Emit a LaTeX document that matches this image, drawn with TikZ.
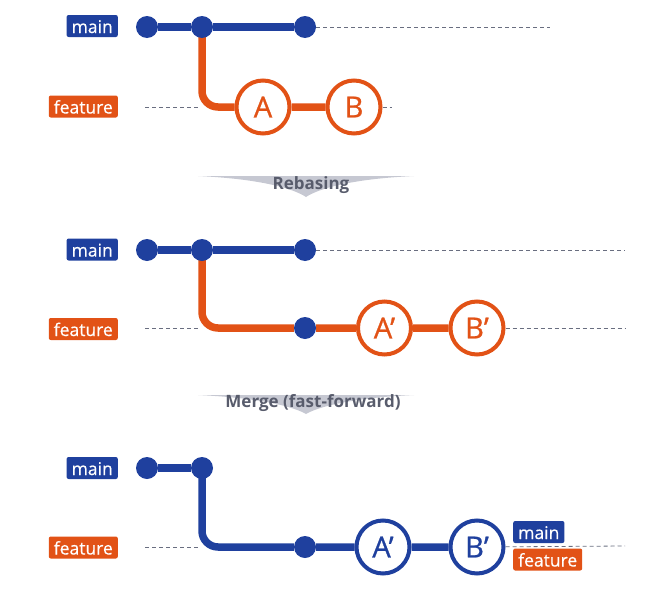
\documentclass[tikz,border=0pt]{standalone}
\usepackage{fontspec}
\setmainfont{Open Sans}
\newfontfamily\commitfont{Open Sans}[FakeBold=0.9]
\newfontfamily\tagfont{Open Sans}[FakeBold=0.4]
\usetikzlibrary{backgrounds}
\definecolor{gblue}{RGB}{31,64,158}
\definecolor{gorange}{RGB}{226,82,22}
\definecolor{dashgray}{RGB}{105,110,128}
\definecolor{arrowgray}{RGB}{198,200,210}
\definecolor{textgray}{RGB}{88,92,108}
\begin{document}
\begin{tikzpicture}[x=1pt,y=-1pt,
 dot/.style={circle, fill=gblue, minimum size=22pt, inner sep=0pt},
 commit/.style={circle, draw=#1, line width=4pt, fill=white, minimum size=53pt, inner sep=0pt, text=#1, font=\commitfont\fontsize{29}{32}\selectfont},
 tag/.style={fill=#1, text=white, rounded corners=2pt, text height=15pt, text depth=1pt, inner xsep=5pt, inner ysep=3pt, font=\tagfont\fontsize{17.5}{20}\selectfont},
 branchline/.style={line width=7.5pt, draw=#1, rounded corners=16pt},
 guide/.style={draw=dashgray, line width=0.8pt, dash pattern=on 4pt off 3pt},
 stepshape/.style={fill=arrowgray},
 steplabel/.style={text=textgray, font=\bfseries\fontsize{17}{20}\selectfont, anchor=base, inner sep=0pt}
]
\useasboundingbox (0,0) rectangle (648,597);

% ---------- panel 1 ----------
\node[tag=gblue, anchor=east] (main1) at (118,26) {main};
\node[tag=gorange, anchor=east] (feat1) at (118,106.5) {feature};
\node[dot] (p1a) at (147,27) {};
\node[dot] (p1b) at (202,27) {};
\node[dot] (p1c) at (305,27) {};
\node[commit=gorange] (A1) at (263,107) {A};
\node[commit=gorange] (B1) at (354,107) {B};
\coordinate (p1e) at (550,27);
\coordinate (f1s) at (145,107);
\coordinate (f1t) at (200,107);
\coordinate (f1e) at (392,107);

% ---------- rebasing ----------
\path[stepshape] (198,176) -- (414,176) .. controls (350,179) and (318,189) .. (306,197) .. controls (294,189) and (262,179) .. cycle;
\node[steplabel] (rebase) at (311,189) {Rebasing};

% ---------- panel 2 ----------
\node[tag=gblue, anchor=east] (main2) at (118,249.5) {main};
\node[tag=gorange, anchor=east] (feat2) at (118,329) {feature};
\node[dot] (p2a) at (147,250) {};
\node[dot] (p2b) at (202,250) {};
\node[dot] (p2c) at (305,250) {};
\node[dot] (p2d) at (305,328) {};
\node[commit=gorange] (A2) at (384.5,328) {A’};
\node[commit=gorange] (B2) at (477,328) {B’};
\coordinate (p2e) at (625,250);
\coordinate (f2s) at (145,328);
\coordinate (f2t) at (200,328);
\coordinate (f2e) at (625,328);

% ---------- merge ----------
\path[stepshape] (198,395) -- (414,395) .. controls (350,398) and (318,407) .. (306,414) .. controls (294,407) and (262,398) .. cycle;
\node[steplabel] (merge) at (313,407) {Merge (fast-forward)};

% ---------- panel 3 ----------
\node[tag=gblue, anchor=east] (main3) at (118,468) {main};
\node[tag=gorange, anchor=east] (feat3) at (118,547.5) {feature};
\node[dot] (p3a) at (147,468) {};
\node[dot] (p3b) at (202,468) {};
\node[dot] (p3d) at (305,547) {};
\node[commit=gblue] (A3) at (383,547) {A’};
\node[commit=gblue] (B3) at (477,547) {B’};
\coordinate (f3s) at (145,547);
\coordinate (f3t) at (200,547);
\coordinate (f3e) at (625,546);
\node[tag=gblue, anchor=west] (main3r) at (513,532) {main};
\node[tag=gorange, anchor=west] (feat3r) at (513,559.5) {feature};

\begin{scope}[on background layer]
 % guides
 \draw[guide] (p1c) -- (p1e);
 \draw[guide] (f1s) -- (f1t);
 \draw[guide] (B1) -- (f1e);
 \draw[guide] (p2c) -- (p2e);
 \draw[guide] (f2s) -- (f2t);
 \draw[guide] (B2) -- (f2e);
 \draw[guide] (f3s) -- (f3t);
 \draw[guide] (B3) -- (f3e);
 % branches
 \draw[branchline=gblue] (p1a) -- (p1b) -- (p1c);
 \draw[branchline=gorange] (p1b.center) |- (A1) -- (B1);
 \draw[branchline=gblue] (p2a) -- (p2b) -- (p2c);
 \draw[branchline=gorange] (p2b.center) |- (p2d) -- (A2) -- (B2);
 \draw[branchline=gblue] (p3a) -- (p3b);
 \draw[branchline=gblue] (p3b.center) |- (p3d) -- (A3) -- (B3);
\end{scope}
\end{tikzpicture}
\end{document}
